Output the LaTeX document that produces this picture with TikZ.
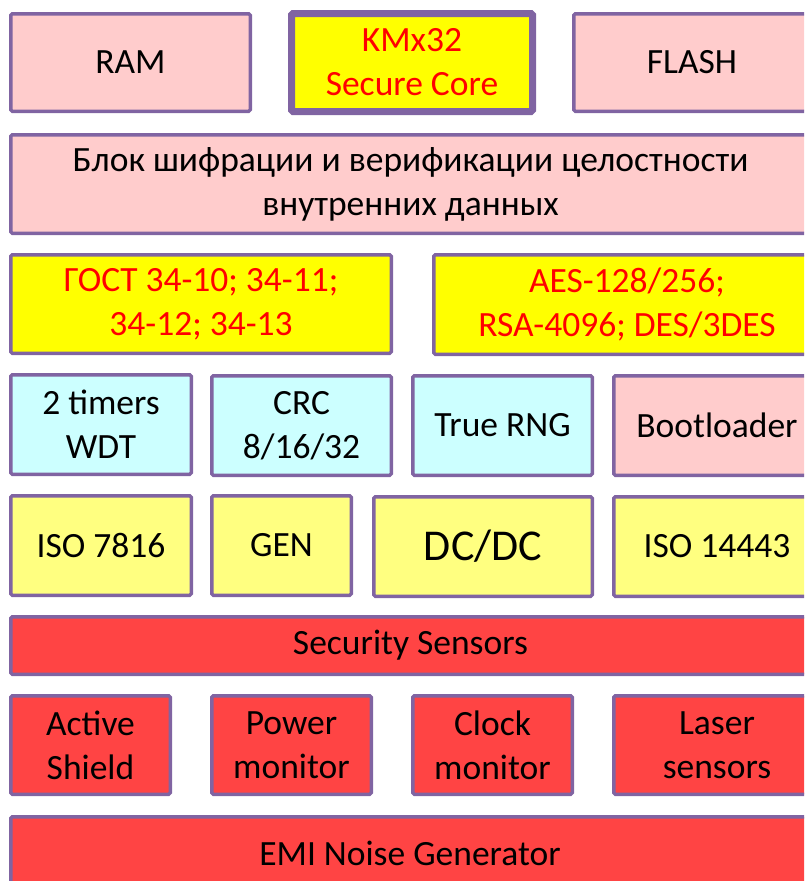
\documentclass[tikz,border=0pt]{standalone}
\usepackage{fontspec}
\setmainfont{Carlito}
\definecolor{purp}{HTML}{8064A2}
\definecolor{pinkf}{HTML}{FFCCCC}
\definecolor{cyanf}{HTML}{CCFFFF}
\definecolor{lyel}{HTML}{FFFF80}
\definecolor{yel}{HTML}{FFFF00}
\definecolor{redf}{HTML}{FF4444}
\definecolor{redt}{HTML}{FF0000}
\tikzset{
  blk/.style={draw=purp, line width=3.5pt, rounded corners=1.5pt, inner sep=0pt, align=center,
    font=\fontsize{35.5}{44}\selectfont, text=black},
  pinkbox/.style={blk, fill=pinkf},
  cyanbox/.style={blk, fill=cyanf},
  lyelbox/.style={blk, fill=lyel},
  yelbox/.style={blk, fill=yel, text=redt},
  redbox/.style={blk, fill=redf},
}
% #1 name, #2 style, #3 x1, #4 y1, #5 x2, #6 y2, #7 line width, #8 text
\newcommand\mybox[8]{%
  \node[#2, line width=#7pt, minimum width={(#5-#3-#7)*1pt}, minimum height={(#6-#4-#7)*1pt}]
    (#1) at ({(#3+#5)/2},{(#4+#6)/2}) {#8};}
\begin{document}
\begin{tikzpicture}[x=1pt,y=-1pt]
\useasboundingbox (0,0) rectangle (804,881);
\begin{scope}
\clip (0,0) rectangle (804,881);
\mybox{ram}{pinkbox}{9}{12}{252}{113}{3.5}{RAM}
\mybox{core}{yelbox}{288}{10}{536}{115}{7}{KMx32\\Secure Core}
\mybox{flash}{pinkbox}{572}{12}{812}{113}{3.5}{FLASH}
\mybox{cipher}{pinkbox}{9}{133}{812}{235}{3.5}{Блок шифрации и верификации целостности\\внутренних данных}
\mybox{gost}{yelbox}{9}{253}{393}{355}{3.5}{ГОСТ 34-10; 34-11;\\34-12; 34-13}
\mybox{aes}{yelbox}{432}{253}{822}{356}{3.5}{AES-128/256;\\RSA-4096; DES/3DES}
\mybox{timers}{cyanbox}{9}{373}{193}{476}{3.5}{2 timers\\WDT}
\mybox{crc}{cyanbox}{210}{374}{393}{477}{3.5}{CRC\\8/16/32}
\mybox{rng}{cyanbox}{411}{374}{594}{477}{3.5}{True RNG}
\mybox{boot}{pinkbox}{612}{374}{822}{477}{3.5}{Bootloader}
\mybox{iso78}{lyelbox}{9}{494}{193}{597}{3.5}{ISO 7816}
\mybox{gen}{lyelbox}{210}{494}{353}{597}{3.5}{GEN}
\mybox{dcdc}{lyelbox, font=\fontsize{44}{50}\selectfont}{372}{495}{594}{598}{3.5}{DC/DC}
\mybox{iso144}{lyelbox}{612}{495}{822}{598}{3.5}{ISO 14443}
\mybox{sens}{redbox}{9}{615}{812}{676}{3.5}{Security Sensors}
\mybox{shield}{redbox}{9}{694}{172}{796}{3.5}{Active\\Shield}
\mybox{power}{redbox}{210}{694}{373}{796}{3.5}{Power\\monitor}
\mybox{clock}{redbox}{411}{694}{574}{796}{3.5}{Clock\\monitor}
\mybox{laser}{redbox}{612}{694}{822}{796}{3.5}{Laser\\sensors}
\mybox{emi}{redbox}{9}{815}{812}{900}{3.5}{}
\node[font=\fontsize{35.5}{44}\selectfont, inner sep=0pt] (emitxt) at (410,853) {EMI Noise Generator};
\end{scope}
\end{tikzpicture}
\end{document}
